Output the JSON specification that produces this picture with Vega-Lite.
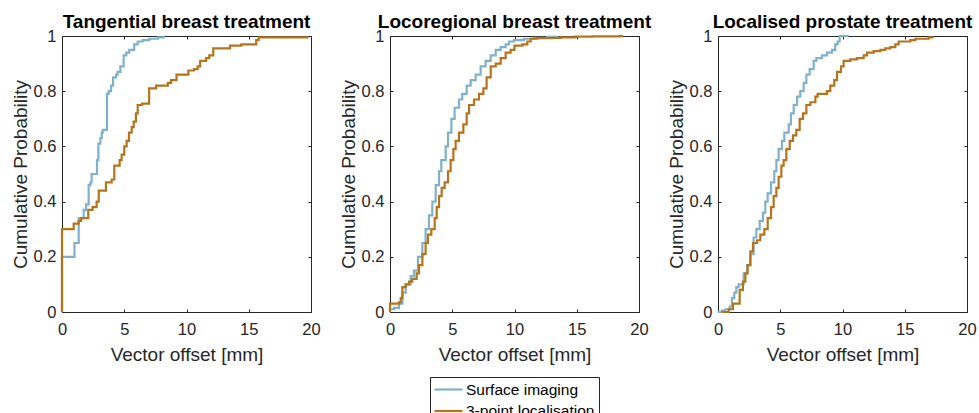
{
  "$schema": "https://vega.github.io/schema/vega-lite/v6.json",
  "padding": {"left": 10, "top": 12, "right": 5, "bottom": 5},
  "background": "white",
  "config": {
    "font": "Liberation Sans",
    "view": {"stroke": "#262626", "strokeWidth": 1},
    "axis": {
      "domain": false, "grid": false, "ticks": true, "tickColor": "#262626", "tickSize": -3,
      "labelFont": "Liberation Sans", "labelFontSize": 16.5, "labelColor": "#262626",
      "labelFlush": false, "labelOverlap": false,
      "titleFont": "Liberation Sans", "titleFontSize": 19, "titleFontWeight": "normal", "titleColor": "#262626"
    },
    "title": {"font": "Liberation Sans", "fontSize": 19, "fontWeight": "bold", "color": "black", "frame": "group", "anchor": "middle", "baseline": "alphabetic", "offset": -4}
  },
  "datasets": {
    "tS": [{"x":0,"p":0},{"x":0,"p":0.2},{"x":1.0,"p":0.25},{"x":1.34,"p":0.34},{"x":1.74,"p":0.37},{"x":1.93,"p":0.39},{"x":2.14,"p":0.46},{"x":2.28,"p":0.47},{"x":2.38,"p":0.5},{"x":2.81,"p":0.55},{"x":2.92,"p":0.61},{"x":3.08,"p":0.63},{"x":3.19,"p":0.65},{"x":3.27,"p":0.66},{"x":3.61,"p":0.79},{"x":3.75,"p":0.8},{"x":3.94,"p":0.82},{"x":4.1,"p":0.85},{"x":4.34,"p":0.86},{"x":4.47,"p":0.87},{"x":4.69,"p":0.89},{"x":4.95,"p":0.93},{"x":5.17,"p":0.94},{"x":5.4,"p":0.95},{"x":5.8,"p":0.97},{"x":6.08,"p":0.98},{"x":6.48,"p":0.985},{"x":7.0,"p":0.99},{"x":7.7,"p":0.995},{"x":8.17,"p":1.0}],
    "t3": [{"x":0,"p":0},{"x":0,"p":0.3},{"x":0.94,"p":0.32},{"x":1.34,"p":0.33},{"x":1.53,"p":0.34},{"x":2.11,"p":0.37},{"x":2.46,"p":0.38},{"x":2.78,"p":0.4},{"x":2.95,"p":0.44},{"x":3.53,"p":0.47},{"x":3.99,"p":0.48},{"x":4.2,"p":0.53},{"x":4.63,"p":0.55},{"x":4.79,"p":0.57},{"x":5.0,"p":0.6},{"x":5.19,"p":0.62},{"x":5.38,"p":0.65},{"x":5.6,"p":0.67},{"x":5.76,"p":0.69},{"x":5.94,"p":0.72},{"x":6.08,"p":0.75},{"x":6.43,"p":0.755},{"x":7.0,"p":0.81},{"x":7.55,"p":0.82},{"x":8.5,"p":0.83},{"x":8.76,"p":0.84},{"x":9.2,"p":0.86},{"x":10.15,"p":0.875},{"x":10.6,"p":0.88},{"x":10.9,"p":0.89},{"x":11.1,"p":0.91},{"x":11.57,"p":0.92},{"x":11.83,"p":0.93},{"x":12.15,"p":0.955},{"x":13.5,"p":0.965},{"x":14.4,"p":0.97},{"x":15.6,"p":0.985},{"x":15.8,"p":0.995},{"x":19.8,"p":0.995}],
    "lS": [{"x":0,"p":0},{"x":0,"p":0.01},{"x":0.32,"p":0.015},{"x":0.72,"p":0.03},{"x":1.0,"p":0.07},{"x":1.26,"p":0.1},{"x":1.66,"p":0.13},{"x":1.93,"p":0.15},{"x":2.25,"p":0.2},{"x":2.6,"p":0.25},{"x":2.86,"p":0.3},{"x":3.13,"p":0.35},{"x":3.4,"p":0.4},{"x":3.67,"p":0.46},{"x":3.94,"p":0.51},{"x":4.12,"p":0.55},{"x":4.47,"p":0.6},{"x":4.66,"p":0.65},{"x":4.93,"p":0.7},{"x":5.19,"p":0.74},{"x":5.54,"p":0.77},{"x":5.8,"p":0.79},{"x":6.16,"p":0.82},{"x":6.48,"p":0.84},{"x":6.88,"p":0.86},{"x":7.28,"p":0.89},{"x":7.68,"p":0.91},{"x":8.09,"p":0.93},{"x":8.49,"p":0.95},{"x":8.89,"p":0.96},{"x":9.29,"p":0.97},{"x":9.56,"p":0.98},{"x":9.96,"p":0.985},{"x":10.76,"p":0.99},{"x":11.57,"p":0.993},{"x":12.64,"p":0.997},{"x":13.44,"p":1.0}],
    "l3": [{"x":0,"p":0},{"x":0,"p":0.03},{"x":0.72,"p":0.035},{"x":0.86,"p":0.05},{"x":0.99,"p":0.09},{"x":1.26,"p":0.1},{"x":1.53,"p":0.11},{"x":1.79,"p":0.12},{"x":2.14,"p":0.14},{"x":2.33,"p":0.17},{"x":2.6,"p":0.21},{"x":2.86,"p":0.25},{"x":3.05,"p":0.28},{"x":3.32,"p":0.3},{"x":3.59,"p":0.34},{"x":3.75,"p":0.38},{"x":3.94,"p":0.42},{"x":4.15,"p":0.45},{"x":4.39,"p":0.47},{"x":4.66,"p":0.51},{"x":4.87,"p":0.55},{"x":5.09,"p":0.59},{"x":5.27,"p":0.62},{"x":5.54,"p":0.65},{"x":5.89,"p":0.68},{"x":6.16,"p":0.72},{"x":6.35,"p":0.75},{"x":6.75,"p":0.77},{"x":7.15,"p":0.79},{"x":7.5,"p":0.81},{"x":7.76,"p":0.85},{"x":8.09,"p":0.89},{"x":8.49,"p":0.9},{"x":8.89,"p":0.92},{"x":9.29,"p":0.94},{"x":9.69,"p":0.95},{"x":10.0,"p":0.965},{"x":10.63,"p":0.97},{"x":11.03,"p":0.98},{"x":11.3,"p":0.99},{"x":11.83,"p":0.992},{"x":13.04,"p":0.993},{"x":13.7,"p":0.995},{"x":14.9,"p":0.998},{"x":16.25,"p":0.999},{"x":18.5,"p":1.0},{"x":18.74,"p":1.0}],
    "pS": [{"x":0,"p":0},{"x":0.32,"p":0.005},{"x":0.59,"p":0.01},{"x":0.94,"p":0.02},{"x":1.12,"p":0.05},{"x":1.31,"p":0.07},{"x":1.47,"p":0.09},{"x":1.66,"p":0.1},{"x":2.06,"p":0.14},{"x":2.33,"p":0.17},{"x":2.6,"p":0.21},{"x":2.86,"p":0.27},{"x":3.08,"p":0.3},{"x":3.35,"p":0.33},{"x":3.61,"p":0.36},{"x":3.8,"p":0.4},{"x":3.99,"p":0.43},{"x":4.26,"p":0.47},{"x":4.52,"p":0.51},{"x":4.69,"p":0.55},{"x":4.87,"p":0.59},{"x":5.14,"p":0.62},{"x":5.33,"p":0.65},{"x":5.68,"p":0.68},{"x":5.86,"p":0.72},{"x":6.08,"p":0.75},{"x":6.35,"p":0.78},{"x":6.61,"p":0.8},{"x":6.88,"p":0.83},{"x":7.1,"p":0.86},{"x":7.36,"p":0.88},{"x":7.68,"p":0.91},{"x":7.9,"p":0.92},{"x":8.35,"p":0.93},{"x":8.75,"p":0.94},{"x":9.16,"p":0.95},{"x":9.42,"p":0.97},{"x":9.61,"p":0.98},{"x":9.77,"p":1.0},{"x":10.5,"p":1.0}],
    "p3": [{"x":0.3,"p":0},{"x":0.86,"p":0.01},{"x":1.2,"p":0.03},{"x":1.74,"p":0.08},{"x":2.0,"p":0.11},{"x":2.2,"p":0.14},{"x":2.38,"p":0.17},{"x":2.6,"p":0.22},{"x":2.81,"p":0.25},{"x":3.13,"p":0.26},{"x":3.4,"p":0.28},{"x":3.72,"p":0.3},{"x":3.99,"p":0.34},{"x":4.26,"p":0.38},{"x":4.47,"p":0.42},{"x":4.69,"p":0.45},{"x":4.87,"p":0.49},{"x":5.09,"p":0.53},{"x":5.27,"p":0.55},{"x":5.49,"p":0.59},{"x":5.76,"p":0.62},{"x":6.02,"p":0.64},{"x":6.29,"p":0.66},{"x":6.56,"p":0.7},{"x":6.83,"p":0.72},{"x":7.1,"p":0.75},{"x":7.42,"p":0.76},{"x":7.82,"p":0.78},{"x":8.0,"p":0.79},{"x":8.75,"p":0.8},{"x":9.02,"p":0.82},{"x":9.34,"p":0.84},{"x":9.56,"p":0.87},{"x":9.88,"p":0.89},{"x":10.09,"p":0.91},{"x":10.63,"p":0.915},{"x":11.16,"p":0.92},{"x":11.7,"p":0.93},{"x":11.97,"p":0.94},{"x":12.5,"p":0.945},{"x":13.04,"p":0.95},{"x":13.44,"p":0.955},{"x":13.84,"p":0.96},{"x":14.24,"p":0.97},{"x":14.51,"p":0.98},{"x":15.45,"p":0.985},{"x":15.85,"p":0.99},{"x":16.92,"p":0.995},{"x":17.32,"p":0.995}]
  },
  "bounds": "flush",
  "spacing": 79,
  "resolve": {"scale": {"color": "shared"}},
  "hconcat": [
    {
      "width": 249, "height": 276,
      "title": {"text": "Tangential breast treatment"},
      "layer": [
        {"data": {"name": "tS"}, "mark": {"type": "line", "interpolate": "step-after", "strokeWidth": 2.2},
         "encoding": {
           "x": {"field": "x", "type": "quantitative", "scale": {"domain": [0, 20]}, "axis": {"values": [0,5,10,15,20], "format": "d", "labelPadding": 12.8, "title": "Vector offset [mm]", "titleX": 124.5, "titleY": 48, "titleBaseline": "alphabetic"}},
           "y": {"field": "p", "type": "quantitative", "scale": {"domain": [0, 1]}, "axis": {"values": [0,0.2,0.4,0.6,0.8,1], "format": "~g", "labelPadding": 9, "title": "Cumulative Probability", "titleX": -36, "titleY": 138, "titleBaseline": "alphabetic", "titleAlign": "center", "titleAngle": 270}},
           "color": {"datum": "Surface imaging", "type": "nominal", "scale": {"domain": ["Surface imaging", "3-point localisation"], "range": ["#7fb2c8", "#b5741c"]},
             "legend": {"orient": "none", "legendX": 368, "legendY": 341, "title": null, "symbolType": "M-1.143,0H2.857", "symbolSize": 196, "symbolStrokeWidth": 2.2, "labelFont": "Liberation Sans", "labelFontSize": 15.5, "labelColor": "black", "labelOffset": 15, "padding": 4, "rowPadding": 4.5, "strokeColor": "#262626", "fillColor": "white", "cornerRadius": 0, "direction": "vertical"}}
         }},
        {"data": {"name": "t3"}, "mark": {"type": "line", "interpolate": "step-after", "strokeWidth": 2.2},
         "encoding": {
           "x": {"field": "x", "type": "quantitative", "axis": null},
           "y": {"field": "p", "type": "quantitative", "axis": null},
           "color": {"datum": "3-point localisation", "type": "nominal"}
         }},
        {"data": {"name": "t3"}, "mark": {"type": "point", "opacity": 0},
         "encoding": {
           "x": {"field": "x", "type": "quantitative", "axis": {"orient": "top", "labels": false, "title": null, "values": [0,5,10,15,20]}},
           "y": {"field": "p", "type": "quantitative", "axis": {"orient": "right", "labels": false, "title": null, "values": [0,0.2,0.4,0.6,0.8,1]}}
         }}
      ],
      "resolve": {"axis": {"x": "independent", "y": "independent"}}
    },
    {
      "width": 249, "height": 276,
      "title": {"text": "Locoregional breast treatment"},
      "layer": [
        {"data": {"name": "lS"}, "mark": {"type": "line", "interpolate": "step-after", "strokeWidth": 2.2},
         "encoding": {
           "x": {"field": "x", "type": "quantitative", "scale": {"domain": [0, 20]}, "axis": {"values": [0,5,10,15,20], "format": "d", "labelPadding": 12.8, "title": "Vector offset [mm]", "titleX": 124.5, "titleY": 48, "titleBaseline": "alphabetic"}},
           "y": {"field": "p", "type": "quantitative", "scale": {"domain": [0, 1]}, "axis": {"values": [0,0.2,0.4,0.6,0.8,1], "format": "~g", "labelPadding": 9, "title": "Cumulative Probability", "titleX": -36, "titleY": 138, "titleBaseline": "alphabetic", "titleAlign": "center", "titleAngle": 270}},
           "color": {"datum": "Surface imaging", "type": "nominal"}
         }},
        {"data": {"name": "l3"}, "mark": {"type": "line", "interpolate": "step-after", "strokeWidth": 2.2},
         "encoding": {
           "x": {"field": "x", "type": "quantitative", "axis": null},
           "y": {"field": "p", "type": "quantitative", "axis": null},
           "color": {"datum": "3-point localisation", "type": "nominal"}
         }},
        {"data": {"name": "l3"}, "mark": {"type": "point", "opacity": 0},
         "encoding": {
           "x": {"field": "x", "type": "quantitative", "axis": {"orient": "top", "labels": false, "title": null, "values": [0,5,10,15,20]}},
           "y": {"field": "p", "type": "quantitative", "axis": {"orient": "right", "labels": false, "title": null, "values": [0,0.2,0.4,0.6,0.8,1]}}
         }}
      ],
      "resolve": {"axis": {"x": "independent", "y": "independent"}}
    },
    {
      "width": 249, "height": 276,
      "title": {"text": "Localised prostate treatment"},
      "layer": [
        {"data": {"name": "pS"}, "mark": {"type": "line", "interpolate": "step-after", "strokeWidth": 2.2},
         "encoding": {
           "x": {"field": "x", "type": "quantitative", "scale": {"domain": [0, 20]}, "axis": {"values": [0,5,10,15,20], "format": "d", "labelPadding": 12.8, "title": "Vector offset [mm]", "titleX": 124.5, "titleY": 48, "titleBaseline": "alphabetic"}},
           "y": {"field": "p", "type": "quantitative", "scale": {"domain": [0, 1]}, "axis": {"values": [0,0.2,0.4,0.6,0.8,1], "format": "~g", "labelPadding": 9, "title": "Cumulative Probability", "titleX": -36, "titleY": 138, "titleBaseline": "alphabetic", "titleAlign": "center", "titleAngle": 270}},
           "color": {"datum": "Surface imaging", "type": "nominal"}
         }},
        {"data": {"name": "p3"}, "mark": {"type": "line", "interpolate": "step-after", "strokeWidth": 2.2},
         "encoding": {
           "x": {"field": "x", "type": "quantitative", "axis": null},
           "y": {"field": "p", "type": "quantitative", "axis": null},
           "color": {"datum": "3-point localisation", "type": "nominal"}
         }},
        {"data": {"name": "p3"}, "mark": {"type": "point", "opacity": 0},
         "encoding": {
           "x": {"field": "x", "type": "quantitative", "axis": {"orient": "top", "labels": false, "title": null, "values": [0,5,10,15,20]}},
           "y": {"field": "p", "type": "quantitative", "axis": {"orient": "right", "labels": false, "title": null, "values": [0,0.2,0.4,0.6,0.8,1]}}
         }}
      ],
      "resolve": {"axis": {"x": "independent", "y": "independent"}}
    }
  ]
}
